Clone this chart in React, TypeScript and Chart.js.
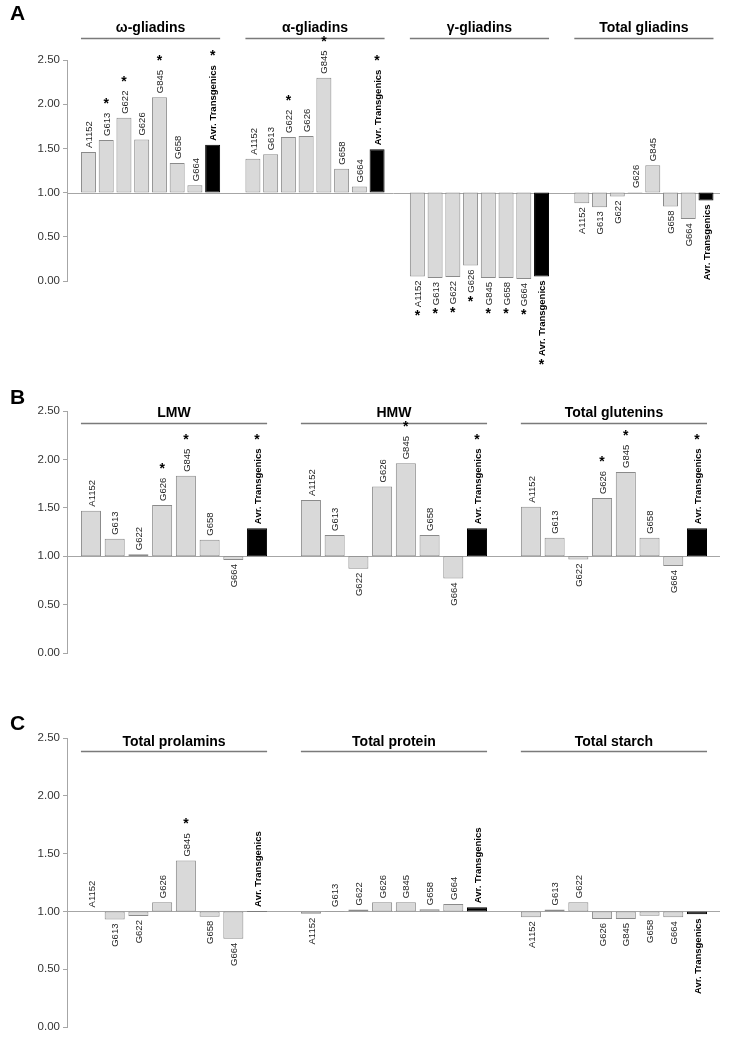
import React, { useEffect, useRef } from "react";
import { Chart, registerables } from "chart.js";
Chart.register(...registerables);

const FONT = "'Liberation Sans', Arial, Helvetica, sans-serif";

// Lines (categories) repeated in every group
const lines = ["A1152", "G613", "G622", "G626", "G845", "G658", "G664", "Avr. Transgenics"];

// Panel A – gliadins (ratio transgenic / control)
const groupsA = ["ω-gliadins", "α-gliadins", "γ-gliadins", "Total gliadins"];
const omegaGliadins = [1.46, 1.595, 1.846, 1.6, 2.08, 1.335, 1.083, 1.54];
const alphaGliadins = [1.384, 1.433, 1.63, 1.64, 2.3, 1.27, 1.07, 1.49];
const gammaGliadins = [0.052, 0.034, 0.045, 0.176, 0.034, 0.034, 0.023, 0.052];
const totalGliadins = [0.88, 0.835, 0.955, 1.006, 1.31, 0.842, 0.7, 0.91];
const starsOmega = [0, 1, 1, 0, 1, 0, 0, 1];
const starsAlpha = [0, 0, 1, 0, 1, 0, 0, 1];
const starsGamma = [1, 1, 1, 1, 1, 1, 1, 1];
const starsTotalGliadins = [0, 0, 0, 0, 0, 0, 0, 0];

// Panel B – glutenins
const groupsB = ["LMW", "HMW", "Total glutenins"];
const lmw = [1.47, 1.18, 1.02, 1.53, 1.83, 1.17, 0.96, 1.29];
const hmw = [1.58, 1.22, 0.87, 1.72, 1.96, 1.22, 0.77, 1.29];
const totalGlutenins = [1.51, 1.19, 0.965, 1.6, 1.87, 1.19, 0.9, 1.29];
const starsLmw = [0, 0, 0, 1, 1, 0, 0, 1];
const starsHmw = [0, 0, 0, 0, 1, 0, 0, 1];
const starsTotalGlutenins = [0, 0, 0, 1, 1, 0, 0, 1];

// Panel C – prolamins, protein, starch
const groupsC = ["Total prolamins", "Total protein", "Total starch"];
const totalProlamins = [1.0, 0.93, 0.96, 1.08, 1.44, 0.955, 0.765, 1.005];
const totalProtein = [0.98, 1.005, 1.017, 1.08, 1.08, 1.02, 1.065, 1.037];
const totalStarch = [0.95, 1.017, 1.08, 0.935, 0.935, 0.963, 0.95, 0.975];
const starsProlamins = [0, 0, 0, 0, 1, 0, 0, 0];
const starsProtein = [0, 0, 0, 0, 0, 0, 0, 0];
const starsStarch = [0, 0, 0, 0, 0, 0, 0, 0];

// y-axis ticks
const yTicks = [0, 0.5, 1, 1.5, 2, 2.5];
const BASE = 1;

const GROUP_STEP = 9.27;

type PanelCfg = {
  letter: string;
  groups: string[];
  values: number[][];
  stars: number[][];
  top: number;
  height: number;
  padTop: number;
  padBottom: number;
  xMin: number;
  xMax: number;
  titleDy: number;
  lineDy: number;
  letterY: number;
};

const panels: PanelCfg[] = [
  {
    letter: "A",
    groups: groupsA,
    values: [omegaGliadins, alphaGliadins, gammaGliadins, totalGliadins],
    stars: [starsOmega, starsAlpha, starsGamma, starsTotalGliadins],
    top: 0,
    height: 390,
    padTop: 60,
    padBottom: 109,
    xMin: -1.21,
    xMax: 35.6,
    titleDy: -32,
    lineDy: -22.5,
    letterY: 14,
  },
  {
    letter: "B",
    groups: groupsB,
    values: [lmw, hmw, totalGlutenins],
    stars: [starsLmw, starsHmw, starsTotalGlutenins],
    top: 390,
    height: 310,
    padTop: 21,
    padBottom: 47,
    xMin: -1.01,
    xMax: 26.51,
    titleDy: 2.5,
    lineDy: 11.5,
    letterY: 8,
  },
  {
    letter: "C",
    groups: groupsC,
    values: [totalProlamins, totalProtein, totalStarch],
    stars: [starsProlamins, starsProtein, starsStarch],
    top: 700,
    height: 337,
    padTop: 38,
    padBottom: 7,
    xMin: -1.01,
    xMax: 26.51,
    titleDy: 4,
    lineDy: 12.7,
    letterY: 24,
  },
];

function vText(ctx: CanvasRenderingContext2D, text: string, x: number, y: number, align: CanvasTextAlign) {
  ctx.save();
  ctx.translate(x, y);
  ctx.rotate(-Math.PI / 2);
  ctx.textAlign = align;
  ctx.textBaseline = "middle";
  ctx.fillText(text, 0, 1);
  ctx.restore();
}

function drawStar(ctx: CanvasRenderingContext2D, x: number, cy: number) {
  ctx.save();
  ctx.font = `bold 14px ${FONT}`;
  ctx.fillStyle = "#000";
  const m = ctx.measureText("*");
  const dy = (m.actualBoundingBoxAscent - m.actualBoundingBoxDescent) / 2;
  ctx.textAlign = "center";
  ctx.textBaseline = "alphabetic";
  ctx.fillText("*", x, cy + dy);
  ctx.restore();
}

function Panel({ cfg }: { cfg: PanelCfg }) {
  const ref = useRef<HTMLCanvasElement | null>(null);
  useEffect(() => {
    if (!ref.current) return;
    const points: { x: number; y: [number, number] }[] = [];
    const colors: string[] = [];
    const borders: string[] = [];
    cfg.values.forEach((arr, g) => {
      arr.forEach((v, i) => {
        points.push({ x: g * GROUP_STEP + i, y: [BASE, v] });
        const avr = i === lines.length - 1;
        colors.push(avr ? "#000000" : "#d9d9d9");
        borders.push(avr ? "#000000" : "#8a8a8a");
      });
    });

    const annot = {
      id: "annot" + cfg.letter,
      beforeDatasetsDraw(chart: any) {
        const { ctx, chartArea, scales } = chart;
        const yb = Math.round(scales.y.getPixelForValue(BASE)) + 0.5;
        ctx.save();
        ctx.strokeStyle = "#a6a6a6";
        ctx.lineWidth = 1;
        ctx.beginPath();
        ctx.moveTo(chartArea.left, yb);
        ctx.lineTo(chartArea.right, yb);
        ctx.stroke();
        ctx.restore();
      },
      afterDatasetsDraw(chart: any) {
        const { ctx, chartArea } = chart;
        const meta = chart.getDatasetMeta(0);
        ctx.save();
        // panel letter
        ctx.font = `bold 21px ${FONT}`;
        ctx.fillStyle = "#000";
        ctx.textAlign = "left";
        ctx.textBaseline = "middle";
        ctx.fillText(cfg.letter, 10, cfg.letterY);

        cfg.values.forEach((arr, g) => {
          const first = meta.data[g * lines.length].getProps(["x", "width"], true);
          const last = meta.data[g * lines.length + lines.length - 1].getProps(["x", "width"], true);
          const x0 = first.x - first.width / 2;
          const x1 = last.x + last.width / 2;
          // group line
          const ly = Math.round(chartArea.top + cfg.lineDy) + 0.5;
          ctx.strokeStyle = "#7a7a7a";
          ctx.lineWidth = 1.5;
          ctx.beginPath();
          ctx.moveTo(x0, ly);
          ctx.lineTo(x1, ly);
          ctx.stroke();
          // group title
          ctx.font = `bold 14px ${FONT}`;
          ctx.fillStyle = "#000";
          ctx.textAlign = "center";
          ctx.textBaseline = "middle";
          ctx.fillText(cfg.groups[g], (x0 + x1) / 2, chartArea.top + cfg.titleDy);

          arr.forEach((v, i) => {
            const el = meta.data[g * lines.length + i].getProps(["x", "y", "base"], true);
            const name = lines[i];
            const avr = i === lines.length - 1;
            ctx.font = avr ? `bold 9.5px ${FONT}` : `9.5px ${FONT}`;
            ctx.fillStyle = avr ? "#000" : "#262626";
            const w = ctx.measureText(name).width;
            const star = cfg.stars[g][i] === 1;
            if (v >= BASE) {
              const a = Math.min(el.y, el.base) - 4;
              vText(ctx, name, el.x, a, "left");
              if (star) drawStar(ctx, el.x, a - w - 8);
            } else {
              const a = Math.max(el.y, el.base) + 4;
              vText(ctx, name, el.x, a, "right");
              if (star) drawStar(ctx, el.x, a + w + 10);
            }
          });
        });
        ctx.restore();
      },
    };

    const chart = new Chart(ref.current, {
      type: "bar",
      data: {
        datasets: [
          {
            data: points as any,
            backgroundColor: colors,
            borderColor: borders,
            borderWidth: 1,
            borderSkipped: false,
            barPercentage: 0.845,
            categoryPercentage: 1,
          },
        ],
      },
      options: {
        animation: false,
        responsive: false,
        devicePixelRatio: 1,
        layout: { padding: { left: 0, right: 9, top: cfg.padTop, bottom: cfg.padBottom } },
        plugins: { legend: { display: false }, tooltip: { enabled: false } },
        scales: {
          x: { type: "linear", display: false, min: cfg.xMin, max: cfg.xMax, offset: false },
          y: {
            min: yTicks[0],
            max: yTicks[yTicks.length - 1],
            afterBuildTicks: (s: any) => {
              s.ticks = yTicks.map((v) => ({ value: v }));
            },
            afterFit: (s: any) => {
              s.width = 67;
            },
            ticks: {
              callback: (v: any) => Number(v).toFixed(2),
              font: { family: FONT, size: 11.5 },
              color: "#333",
              padding: 3,
            },
            grid: { drawOnChartArea: false, drawTicks: true, tickLength: 4, color: "#a6a6a6" },
            border: { display: true, color: "#a6a6a6" },
          },
        },
      },
      plugins: [annot],
    } as any);
    return () => chart.destroy();
  }, [cfg]);
  return (
    <canvas
      ref={ref}
      width={729}
      height={cfg.height}
      style={{ position: "absolute", left: 0, top: cfg.top, width: 729, height: cfg.height, display: "block" }}
    />
  );
}

export default function App() {
  useEffect(() => {
    document.body.style.margin = "0";
    document.body.style.overflow = "hidden";
    document.body.style.background = "#fff";
  }, []);
  return (
    <div style={{ position: "relative", width: 729, height: 1037, background: "#fff", overflow: "hidden" }}>
      {panels.map((p) => (
        <Panel key={p.letter} cfg={p} />
      ))}
    </div>
  );
}
